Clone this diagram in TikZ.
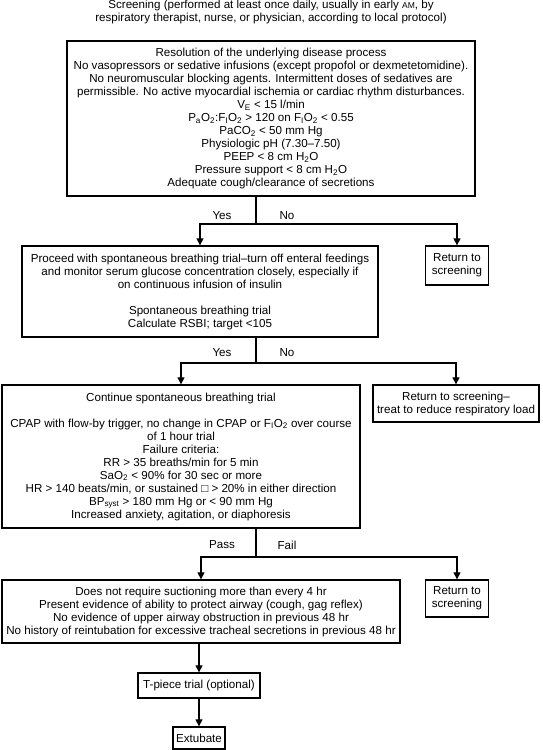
\documentclass[tikz,border=0pt]{standalone}
\usepackage{fontspec}
\setmainfont{Liberation Sans}
\usetikzlibrary{arrows.meta}
\newcommand{\sbs}[1]{\textsubscript{#1}}
\tikzset{
    box/.style={draw, line width=1.3pt, align=center, inner sep=0pt},
    link/.style={line width=1.1pt},
    arr/.style={line width=1.1pt, -{Triangle[length=7pt,width=7pt]}},
}

\begin{document}
\begin{tikzpicture}[x=1pt, y=-1pt, font=\fontsize{11.6}{13}\selectfont]
    \useasboundingbox (0,0) rectangle (542,750);

    % Title
    \node[align=center] (title) at (271,12) {Screening (performed at least once daily, usually in early {\fontsize{8.5}{13}\selectfont AM}, by\\
        respiratory therapist, nurse, or physician, according to local protocol)};

    % Main boxes
    \node[box, minimum width=408pt, minimum height=155pt] (check) at (271,118.5) {%
        Resolution of the underlying disease process\\
        No vasopressors or sedative infusions (except propofol or dexmetetomidine).\\
        No neuromuscular blocking agents. Intermittent doses of sedatives are\\
        permissible. No active myocardial ischemia or cardiac rhythm disturbances.\\
        V\sbs{E} < 15 l/min\\
        P\sbs{a}O\sbs{2}:F\sbs{I}O\sbs{2} > 120 on F\sbs{I}O\sbs{2} < 0.55\\
        PaCO\sbs{2} < 50 mm Hg\\
        Physiologic pH (7.30–7.50)\\
        PEEP < 8 cm H\sbs{2}O\\
        Pressure support < 8 cm H\sbs{2}O\\
        Adequate cough/clearance of secretions};
    \node[box, minimum width=356pt, minimum height=91pt] (sbt) at (200,291.5) {%
        Proceed with spontaneous breathing trial–turn off enteral feedings\\
        and monitor serum glucose concentration closely, especially if\\
        on continuous infusion of insulin\\[13pt]
        Spontaneous breathing trial\\
        Calculate RSBI; target <105};
    \node[box, minimum width=358pt, minimum height=143pt] (cont) at (181,456.5) {%
        Continue spontaneous breathing trial\\[13pt]
        CPAP with flow-by trigger, no change in CPAP or F\sbs{I}O\sbs{2} over course\\
        of 1 hour trial\\
        Failure criteria:\\
        RR > 35 breaths/min for 5 min\\
        SaO\sbs{2} < 90\% for 30 sec or more\\
        HR > 140 beats/min, or sustained □ > 20\% in either direction\\
        BP\sbs{syst} > 180 mm Hg or < 90 mm Hg\\
        Increased anxiety, agitation, or diaphoresis};
    \node[box, minimum width=398pt, minimum height=63pt] (airway) at (201,611.5) {%
        Does not require suctioning more than every 4 hr\\
        Present evidence of ability to protect airway (cough, gag reflex)\\
        No evidence of upper airway obstruction in previous 48 hr\\
        No history of reintubation for excessive tracheal secretions in previous 48 hr};
    \node[box, minimum width=122pt, minimum height=25pt] (tpiece) at (199,685.5) {T-piece trial (optional)};
    \node[box, minimum width=52pt, minimum height=22pt] (extub) at (199,738) {Extubate};

    % Return boxes
    \node[box, minimum width=63pt, minimum height=39pt] (back1) at (457,265.5) {Return to\\ screening};
    \node[box, minimum width=166pt, minimum height=37pt] (back2) at (456,403.5) {Return to screening–\\ treat to reduce respiratory load};
    \node[box, minimum width=63pt, minimum height=37pt] (back3) at (457,598.5) {Return to\\ screening};

    % Forks
    \coordinate (fork1) at (256,224);
    \coordinate (fork2) at (256,363);
    \coordinate (fork3) at (256,557);

    \draw[link] (check.south -| fork1) -- (fork1);
    \draw[arr] (fork1) -| (sbt.north);
    \draw[arr] (fork1) -| (back1.north);

    \draw[link] (sbt.south -| fork2) -- (fork2);
    \draw[arr] (fork2) -| (cont.north);
    \draw[arr] (fork2) -| (back2.north);

    \draw[link] (cont.south -| fork3) -- (fork3);
    \draw[arr] (fork3) -| (airway.north);
    \draw[arr] (fork3) -| (back3.north);

    \draw[arr] (airway.south -| tpiece.north) -- (tpiece.north);
    \draw[arr] (tpiece.south) -- (extub.north);

    % Branch labels
    \foreach \i/\yy/\ya/\yb in {1/216/Yes/No, 2/353/Yes/No, 3/545/Pass/Fail}
        \node (lbla\i) at (222,\yy) {\ya} node (lblb\i) at (287,\yy) {\yb};
\end{tikzpicture}
\end{document}
